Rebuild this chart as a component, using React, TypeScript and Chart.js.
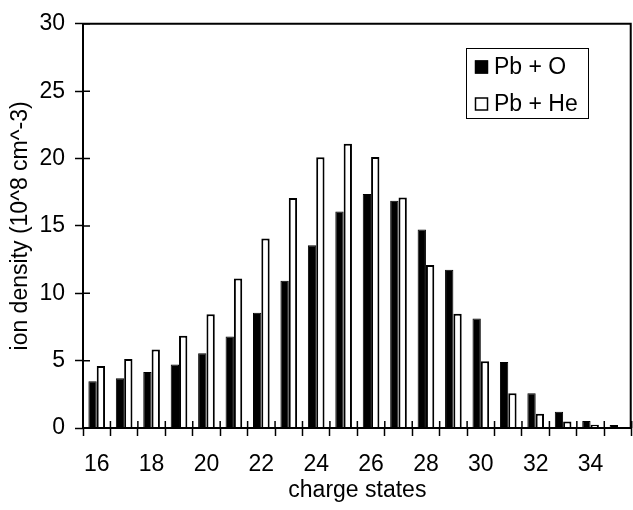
import React, { useEffect, useRef } from "react";
import { Chart, registerables } from "chart.js";

Chart.register(...registerables);

const chargeStates = ["16","17","18","19","20","21","22","23","24","25","26","27","28","29","30","31","32","33","34","35"];
const pbO = [3.47, 3.7, 4.15, 4.72, 5.55, 6.8, 8.56, 10.93, 13.57, 16.07, 17.36, 16.87, 14.74, 11.74, 8.12, 4.89, 2.57, 1.2, 0.52, 0.22];
const pbHe = [4.6, 5.13, 5.82, 6.85, 8.44, 11.1, 14.06, 17.07, 20.1, 21.1, 20.12, 17.1, 12.1, 8.48, 4.96, 2.57, 1.05, 0.49, 0.24, 0.08];
const seriesLabels = ["Pb + O", "Pb + He"];
const yTitle = "ion density (10^8 cm^-3)";
const xTitle = "charge states";

const FONT = "'Liberation Sans', Arial, Helvetica, sans-serif";

const framePlugin = {
  id: "frameAndTicks",
  afterDatasetsDraw(chart: any) {
    const { ctx, chartArea } = chart;
    const { left, right, top, bottom } = chartArea;
    const xs = chart.scales.x;
    const ys = chart.scales.y;
    ctx.save();
    ctx.strokeStyle = "#000";
    ctx.lineWidth = 2;
    ctx.beginPath();
    ctx.moveTo(left, top);
    ctx.lineTo(right - 1, top);
    ctx.lineTo(right - 1, bottom);
    ctx.moveTo(left, top);
    ctx.lineTo(left, bottom);
    ctx.lineTo(right, bottom);
    ctx.stroke();
    // inner tick segments
    ctx.lineWidth = 1.5;
    ctx.beginPath();
    ys.ticks.forEach((t: any) => {
      const py = ys.getPixelForValue(t.value);
      ctx.moveTo(left, py);
      ctx.lineTo(left + 7, py);
    });
    const half = (xs.getPixelForValue(1) - xs.getPixelForValue(0)) / 2;
    for (let i = 0; i <= chargeStates.length; i++) {
      const px = i < chargeStates.length ? xs.getPixelForValue(i) - half : xs.getPixelForValue(i - 1) + half;
      ctx.moveTo(px, bottom);
      ctx.lineTo(px, bottom - 7);
    }
    ctx.stroke();
    ctx.restore();
  },
};

const legendPlugin = {
  id: "boxLegend",
  afterDraw(chart: any) {
    const { ctx } = chart;
    ctx.save();
    ctx.strokeStyle = "#000";
    ctx.lineWidth = 1;
    ctx.strokeRect(466.5, 48.5, 122, 70);
    ctx.font = `23px ${FONT}`;
    ctx.textBaseline = "middle";
    ctx.fillStyle = "#000";
    const rows = [67, 104];
    chart.data.datasets.forEach((ds: any, i: number) => {
      const y = rows[i];
      ctx.fillStyle = ds.backgroundColor;
      ctx.fillRect(475, y - 6.5, 13, 13);
      ctx.lineWidth = 1.5;
      ctx.strokeStyle = "#000";
      ctx.strokeRect(475.5, y - 6, 12, 12);
      ctx.fillStyle = "#000";
      ctx.fillText(ds.label, 494, y + 1);
    });
    ctx.restore();
  },
};

export default function App() {
  const ref = useRef<HTMLCanvasElement | null>(null);
  useEffect(() => {
    if (!ref.current) return;
    const chart = new Chart(ref.current, {
      type: "bar",
      data: {
        labels: chargeStates,
        datasets: [
          {
            label: seriesLabels[0],
            data: pbO,
            backgroundColor: "#000000",
            borderColor: "#000000",
            borderWidth: 1,
            categoryPercentage: 0.607,
            barPercentage: 1.0,
          },
          {
            label: seriesLabels[1],
            data: pbHe,
            backgroundColor: "#ffffff",
            borderColor: "#000000",
            borderWidth: 2,
            categoryPercentage: 0.607,
            barPercentage: 1.0,
          },
        ],
      },
      options: {
        responsive: false,
        animation: false,
        events: [],
        layout: { padding: { top: 19, right: 0, left: 0, bottom: 0 } },
        plugins: {
          legend: { display: false },
          tooltip: { enabled: false },
        },
        scales: {
          x: {
            afterFit(scale: any) {
              scale.height = 82;
            },
            grid: {
              display: true,
              drawOnChartArea: false,
              drawTicks: true,
              tickLength: 8,
              tickWidth: 1.5,
              color: "#000",
              offset: true,
            },
            border: { display: false },
            ticks: {
              autoSkip: false,
              maxRotation: 0,
              padding: 15,
              color: "#000",
              font: { family: FONT, size: 23 },
              callback: (_v: any, i: number) => (i % 2 === 0 ? chargeStates[i] : ""),
            },
            title: {
              display: true,
              text: xTitle,
              color: "#000",
              font: { family: FONT, size: 23 },
              padding: { top: 0, bottom: 6 },
            },
          },
          y: {
            min: 0,
            max: 30,
            afterFit(scale: any) {
              scale.width = 83;
            },
            grid: {
              display: true,
              drawOnChartArea: false,
              drawTicks: true,
              tickLength: 8,
              tickWidth: 1.5,
              color: "#000",
            },
            border: { display: false },
            ticks: {
              stepSize: 5,
              padding: 10,
              color: "#000",
              font: { family: FONT, size: 23 },
            },
            title: {
              display: true,
              text: yTitle,
              color: "#000",
              font: { family: FONT, size: 23 },
              padding: { top: 7, bottom: 0 },
            },
          },
        },
      },
      plugins: [framePlugin, legendPlugin],
    });
    return () => chart.destroy();
  }, []);
  return (
    <div style={{ position: "absolute", left: 0, top: 0, width: 633, height: 510, background: "#fff" }}>
      <canvas ref={ref} width={633} height={510} style={{ display: "block" }} />
    </div>
  );
}
